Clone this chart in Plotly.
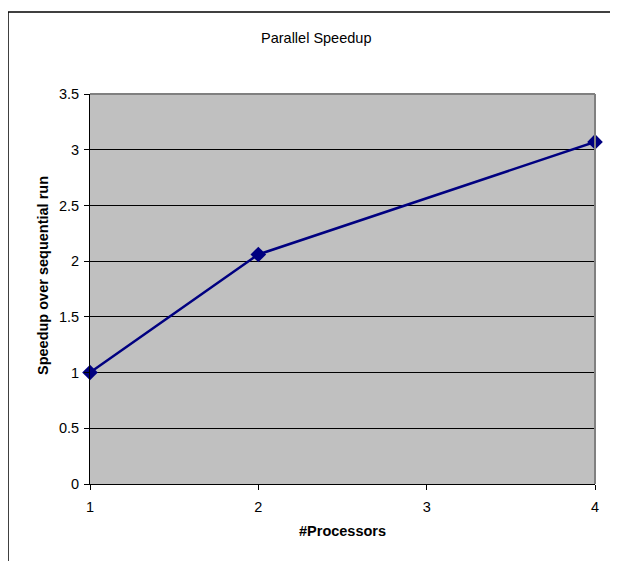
import plotly.graph_objects as go

processors = [1, 2, 4]
speedup = [1.0, 2.06, 3.07]
x_ticks = [1, 2, 3, 4]
y_ticks = [0, 0.5, 1, 1.5, 2, 2.5, 3, 3.5]

O = 8  # page body margin offset
W, H = 618 - O, 561 - O
L, R, T, B = 90 - O, 595 - O, 94 - O, 484 - O

def px(x):  # page x -> paper
    return (x - O - L) / (R - L)

def py(y):  # page y -> paper
    return (B - (y - O)) / (B - T)

FF = "Liberation Sans, Arial, sans-serif"
FS = 14.5

fig = go.Figure()
fig.add_trace(go.Scatter(
    x=processors, y=speedup, mode="lines+markers",
    line=dict(color="#000080", width=2.5),
    marker=dict(symbol="diamond", size=12, color="#000080"),
    cliponaxis=False, showlegend=False,
))

fig.update_layout(
    width=W, height=H,
    margin=dict(l=L, r=W - R, t=T, b=H - B),
    paper_bgcolor="white", plot_bgcolor="#C0C0C0",
    font=dict(family=FF, size=FS, color="black"),
    xaxis=dict(range=[1, 4], tickvals=x_ticks, ticktext=[str(v) for v in x_ticks],
               showgrid=False, zeroline=False, showline=True, linecolor="black", linewidth=1,
               ticks="outside", ticklen=5, tickcolor="black", tickfont=dict(size=FS),
               ticklabelstandoff=5),
    yaxis=dict(range=[0, 3.5], tickvals=y_ticks, ticktext=[("%g" % v) for v in y_ticks],
               showgrid=True, gridcolor="black", gridwidth=1, zeroline=False,
               showline=True, linecolor="black", linewidth=1,
               ticks="outside", ticklen=5, tickcolor="black", tickfont=dict(size=FS),
               ticklabelstandoff=2),
    annotations=[
        dict(text="Parallel Speedup", xref="paper", yref="paper", x=px(316), y=py(38),
             xanchor="center", yanchor="middle", showarrow=False,
             font=dict(size=FS, family=FF, color="black")),
        dict(text="<b>#Processors</b>", xref="paper", yref="paper", x=px(342), y=py(531),
             xanchor="center", yanchor="middle", showarrow=False,
             font=dict(size=FS, family=FF, color="black")),
        dict(text="<b>Speedup over sequential run</b>", xref="paper", yref="paper",
             x=px(43), y=py(276), textangle=-90,
             xanchor="center", yanchor="middle", showarrow=False,
             font=dict(size=FS, family=FF, color="black")),
    ],
    shapes=[
        dict(type="line", xref="paper", yref="paper", x0=0, x1=1, y0=1, y1=1,
             line=dict(color="#808080", width=2)),
        dict(type="line", xref="paper", yref="paper", x0=1, x1=1, y0=0, y1=1,
             line=dict(color="#808080", width=2)),
        dict(type="line", xref="paper", yref="paper", x0=px(8), x1=px(620), y0=py(12), y1=py(12),
             line=dict(color="black", width=1.5)),
        dict(type="line", xref="paper", yref="paper", x0=px(8), x1=px(8), y0=py(12), y1=py(565),
             line=dict(color="black", width=1.5)),
    ],
)

fig.write_html("out.html")
